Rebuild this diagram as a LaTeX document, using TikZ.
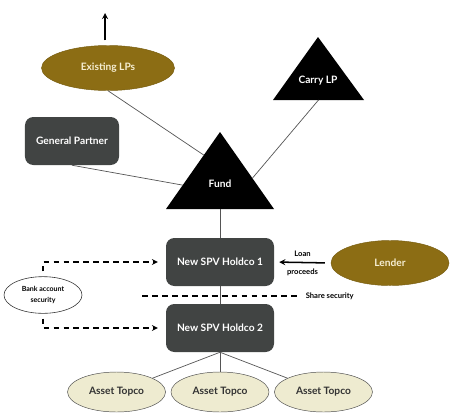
\documentclass[tikz,border=0pt]{standalone}
\usepackage{fontspec}
\setmainfont{Lato}
\usepackage{tikz}
\usetikzlibrary{shapes,calc,positioning}

\definecolor{boxgray}{HTML}{414443}
\definecolor{gold}{HTML}{8C6D14}
\definecolor{cream}{HTML}{EEEBD0}
\definecolor{paletext}{HTML}{F6EED2}
\definecolor{linegray}{HTML}{555555}

\begin{document}
\begin{tikzpicture}[x=0.03cm,y=-0.03cm]
    \tikzstyle{box} = [
      rectangle,
      rounded corners=0.25cm,
      fill=boxgray,
      text=white,
      font=\bfseries\fontsize{8.7}{10}\selectfont,
      minimum width=3.24cm,
      minimum height=1.44cm,
    ]
    \tikzstyle{goldie} = [
      ellipse,
      fill=gold,
      draw=gold!85!black,
      text=paletext,
      font=\bfseries\fontsize{8.7}{10}\selectfont,
      minimum width=3.99cm,
      minimum height=1.35cm,
    ]
    \tikzstyle{asset} = [
      ellipse,
      fill=cream,
      draw=black!70,
      text=black!80,
      font=\bfseries\fontsize{8.7}{10}\selectfont,
      minimum width=2.94cm,
      minimum height=1.2cm,
    ]
    \tikzstyle{link} = [
      line width=0.6pt,
      draw=linegray,
    ]
    \tikzstyle{arrow} = [
      line width=1.3pt,
      ->,
      >=stealth,
      draw=black,
    ]
    \tikzstyle{dashline} = [
      line width=1.2pt,
      dash pattern=on 5pt off 3.5pt,
      draw=black,
    ]

    \newcommand{\gap}[0]{0.15cm}
    \newcommand{\smalltext}[1]{{\bfseries\fontsize{6.5}{7.5}\selectfont #1}}
    \newcommand{\tinytext}[1]{{\bfseries\fontsize{6}{7}\selectfont #1}}

    \useasboundingbox (0,0) rectangle (450,415);

    % triangles
    \coordinate (fundT) at (220,132);
    \coordinate (fundL) at (166,209);
    \coordinate (fundR) at (274,209);
    \fill (fundT) -- (fundR) -- (fundL) -- cycle;
    \node[text=white,font=\bfseries\fontsize{8.7}{10}\selectfont] (fund) at (220,184) {Fund};

    \coordinate (carryT) at (318,37);
    \coordinate (carryL) at (273,100);
    \coordinate (carryR) at (364,100);
    \fill (carryT) -- (carryR) -- (carryL) -- cycle;
    \node[text=white,font=\bfseries\fontsize{8.7}{10}\selectfont] (carry) at (318,81) {Carry LP};

    \coordinate (fundA) at ($(fundL)!0.70!(fundT)$);
    \coordinate (fundB) at ($(fundL)!0.31!(fundT)$);
    \coordinate (fundC) at ($(fundR)!0.40!(fundT)$);
    \coordinate (fundbase) at ($(fundL)!0.5!(fundR)$);
    \coordinate (carrybase) at ($(carryL)!0.5!(carryR)$);

    % top
    \node[goldie] (lps) at (108,68) {Existing LPs};
    \node[box,minimum width=2.82cm] (gp) at (72,141) {General Partner};
    \coordinate (exit) at (105,13);

    \draw[arrow] ([yshift=\gap] lps.north -| exit) -- (exit);
    \draw[link] (lps.south) -- (fundA);
    \draw[link] (gp.south) -- (fundB);
    \draw[link] (carrybase) -- (fundC);

    % holdcos
    \node[box] (holdcoI) at (220,262) {New SPV Holdco 1};
    \node[box] (holdcoII) at (220,328) {New SPV Holdco 2};
    \node[goldie,minimum width=3.54cm] (lender) at (390,263) {Lender};
    \node[ellipse,draw=black!80,line width=0.5pt,minimum width=2.34cm,minimum height=1.02cm,align=center] (bank) at (43,295) {\tinytext{Bank account}\\[-2pt]\tinytext{security}};

    \draw[link] (fundbase) -- (holdcoI);
    \draw[link] (holdcoI) -- (holdcoII);

    \draw[arrow,shorten <=0.18cm,shorten >=0.15cm] (lender.west) -- (holdcoI.east)
      node[midway,above=1pt] {\smalltext{Loan}}
      node[midway,below=1pt] {\smalltext{proceeds}};

    \coordinate (shareL) at (142,296);
    \coordinate (shareR) at (300,296);
    \draw[dashline] (shareL) -- (shareR) node[right=1pt] {\smalltext{Share security}};

    \draw[dashline,->,>=stealth,shorten >=0.24cm] ([yshift=\gap] bank.north) |- (holdcoI.west);
    \draw[dashline,->,>=stealth,shorten >=0.24cm] ([yshift=-\gap] bank.south) |- (holdcoII.west);

    % asset topcos
    \node[asset] (assetII) at (220,392) {Asset Topco};
    \node[asset,anchor=east] (assetI) at ([xshift=-0.15cm] assetII.west) {Asset Topco};
    \node[asset,anchor=west] (assetIII) at ([xshift=0.15cm] assetII.east) {Asset Topco};

    \draw[link] (holdcoII.south) -- (assetI);
    \draw[link] (holdcoII.south) -- (assetII);
    \draw[link] (holdcoII.south) -- (assetIII);
\end{tikzpicture}
\end{document}
